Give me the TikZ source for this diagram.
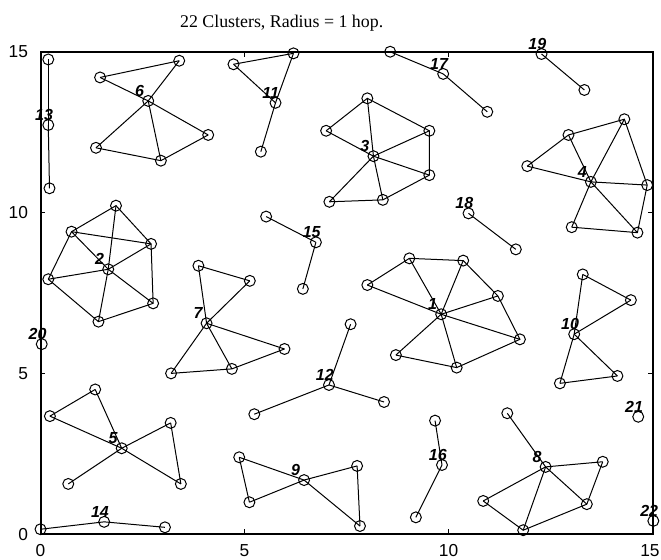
\documentclass[tikz,border=0pt]{standalone}
\usepackage{fontspec}
\setmainfont{Liberation Serif}
\setsansfont{Liberation Sans}
\usepackage{tikz}

\begin{document}
\begin{tikzpicture}[x=30.6pt, y=24.1pt,
  mote/.style={circle, draw=black, line width=0.75pt, inner sep=0pt, minimum size=8.2pt},
  link/.style={draw=black, line width=0.75pt},
  clabel/.style={font=\sffamily\bfseries\itshape\fontsize{12}{12}\selectfont, inner sep=0pt,
                 anchor=base west, xshift=-10pt, yshift=3.4pt},
  ticklbl/.style={font=\sffamily\fontsize{13}{13}\selectfont, inner sep=0pt},
  frame/.style={draw=black, line width=1.5pt}
]
  \useasboundingbox (-0.993,-0.778) rectangle (15.208,16.62);
  \node[font=\fontsize{13.4}{14}\selectfont, anchor=base, inner sep=0pt] (title) at (5.91,15.75) {22 Clusters, Radius = 1 hop.};

  \draw[frame] (0,0) rectangle (15,15);
  \foreach \v in {5,10} {
    \draw[line width=0.75pt] (\v,0) -- ++(0,0.16) (\v,15) -- ++(0,-0.16);
    \draw[line width=0.75pt] (0,\v) -- ++(0.12,0) (15,\v) -- ++(-0.12,0);
  }
  \foreach \v in {0,5,10,15} \node[ticklbl, anchor=east] (yl\v) at (-0.3,\v) {\v};
  \foreach \v in {0,5,10} \node[ticklbl, anchor=north] (xl\v) at (\v,-0.31) {\v};
  \node[ticklbl, anchor=north east] (xl15) at (15.18,-0.31) {15};

  \node[mote] (h1) at (9.82,6.84) {};
  \node[mote] (n1a) at (9.04,8.58) {};
  \node[mote] (n1b) at (8.01,7.75) {};
  \node[mote] (n1c) at (10.36,8.51) {};
  \node[mote] (n1d) at (11.21,7.41) {};
  \node[mote] (n1e) at (11.75,6.06) {};
  \node[mote] (n1f) at (10.20,5.18) {};
  \node[mote] (n1g) at (8.71,5.57) {};

  \node[mote] (h2) at (1.66,8.24) {};
  \node[mote] (n2a) at (1.85,10.22) {};
  \node[mote] (n2b) at (0.76,9.41) {};
  \node[mote] (n2c) at (2.71,9.03) {};
  \node[mote] (n2d) at (0.19,7.93) {};
  \node[mote] (n2e) at (2.76,7.18) {};
  \node[mote] (n2f) at (1.42,6.61) {};

  \node[mote] (h3) at (8.16,11.76) {};
  \node[mote] (n3a) at (8.01,13.56) {};
  \node[mote] (n3b) at (7.00,12.55) {};
  \node[mote] (n3c) at (9.53,12.55) {};
  \node[mote] (n3d) at (9.53,11.17) {};
  \node[mote] (n3e) at (8.39,10.40) {};
  \node[mote] (n3f) at (7.08,10.34) {};

  \node[mote] (h4) at (13.49,10.96) {};
  \node[mote] (n4a) at (14.31,12.91) {};
  \node[mote] (n4b) at (12.94,12.42) {};
  \node[mote] (n4c) at (11.93,11.45) {};
  \node[mote] (n4d) at (14.87,10.86) {};
  \node[mote] (n4e) at (13.02,9.55) {};
  \node[mote] (n4f) at (14.63,9.38) {};

  \node[mote] (h5) at (1.99,2.67) {};
  \node[mote] (n5a) at (1.34,4.50) {};
  \node[mote] (n5b) at (0.23,3.67) {};
  \node[mote] (n5c) at (3.19,3.46) {};
  \node[mote] (n5d) at (3.44,1.56) {};
  \node[mote] (n5e) at (0.68,1.56) {};

  \node[mote] (h6) at (2.64,13.48) {};
  \node[mote] (n6a) at (1.46,14.21) {};
  \node[mote] (n6b) at (3.40,14.73) {};
  \node[mote] (n6c) at (4.11,12.42) {};
  \node[mote] (n6d) at (2.95,11.62) {};
  \node[mote] (n6e) at (1.36,12.02) {};

  \node[mote] (h7) at (4.07,6.56) {};
  \node[mote] (n7a) at (3.87,8.35) {};
  \node[mote] (n7b) at (5.13,7.88) {};
  \node[mote] (n7c) at (5.98,5.76) {};
  \node[mote] (n7d) at (4.69,5.14) {};
  \node[mote] (n7e) at (3.20,5.00) {};

  \node[mote] (h8) at (12.38,2.09) {};
  \node[mote] (n8a) at (11.44,3.76) {};
  \node[mote] (n8b) at (13.78,2.25) {};
  \node[mote] (n8c) at (13.39,0.93) {};
  \node[mote] (n8d) at (10.85,1.03) {};
  \node[mote] (n8e) at (11.83,0.12) {};

  \node[mote] (h9) at (6.46,1.68) {};
  \node[mote] (n9a) at (4.87,2.39) {};
  \node[mote] (n9b) at (5.12,0.99) {};
  \node[mote] (n9c) at (7.76,2.12) {};
  \node[mote] (n9d) at (7.83,0.25) {};

  \node[mote] (h10) at (13.08,6.22) {};
  \node[mote] (n10a) at (13.29,8.08) {};
  \node[mote] (n10b) at (14.47,7.28) {};
  \node[mote] (n10c) at (12.73,4.69) {};
  \node[mote] (n10d) at (14.14,4.92) {};

  \node[mote] (h11) at (5.76,13.42) {};
  \node[mote] (n11a) at (4.73,14.62) {};
  \node[mote] (n11b) at (6.20,14.96) {};
  \node[mote] (n11c) at (5.40,11.90) {};

  \node[mote] (h12) at (7.07,4.64) {};
  \node[mote] (n12a) at (7.60,6.53) {};
  \node[mote] (n12b) at (5.24,3.73) {};
  \node[mote] (n12c) at (8.42,4.11) {};

  \node[mote] (h13) at (0.19,12.73) {};
  \node[mote] (n13a) at (0.19,14.77) {};
  \node[mote] (n13b) at (0.22,10.76) {};

  \node[mote] (h14) at (1.56,0.38) {};
  \node[mote] (n14a) at (0.00,0.15) {};
  \node[mote] (n14b) at (3.05,0.21) {};

  \node[mote] (h15) at (6.75,9.08) {};
  \node[mote] (n15a) at (5.53,9.88) {};
  \node[mote] (n15b) at (6.43,7.63) {};

  \node[mote] (h16) at (9.84,2.15) {};
  \node[mote] (n16a) at (9.67,3.53) {};
  \node[mote] (n16b) at (9.20,0.52) {};

  \node[mote] (h17) at (9.87,14.32) {};
  \node[mote] (n17a) at (8.57,15.01) {};
  \node[mote] (n17b) at (10.95,13.14) {};

  \node[mote] (h18) at (10.49,9.98) {};
  \node[mote] (n18a) at (11.65,8.86) {};

  \node[mote] (h19) at (12.28,14.94) {};
  \node[mote] (n19a) at (13.33,13.82) {};

  \node[mote] (h20) at (0.03,5.91) {};
  \node[mote] (h21) at (14.65,3.65) {};
  \node[mote] (h22) at (15.02,0.41) {};

  \foreach \m in {a,b,c,d,e,f,g} \draw[link] (h1.center) -- (n1\m.center);
  \draw[link] (n1b.center) -- (n1a.center) -- (n1c.center) -- (n1d.center) -- (n1e.center) -- (n1f.center) -- (n1g.center);

  \foreach \m in {a,b,c,d,e,f} \draw[link] (h2.center) -- (n2\m.center);
  \draw[link] (n2d.center) -- (n2b.center) -- (n2a.center) -- (n2c.center) -- (n2e.center) -- (n2f.center) -- (n2d.center);
  \draw[link] (n2b.center) -- (n2c.center);

  \foreach \m in {a,b,c,d,e,f} \draw[link] (h3.center) -- (n3\m.center);
  \draw[link] (n3b.center) -- (n3a.center) -- (n3c.center) -- (n3d.center) -- (n3e.center) -- (n3f.center);

  \foreach \m in {a,b,c,d,e,f} \draw[link] (h4.center) -- (n4\m.center);
  \draw[link] (n4c.center) -- (n4b.center) -- (n4a.center) -- (n4d.center) -- (n4f.center) -- (n4e.center);

  \foreach \m in {a,b,c,d,e} \draw[link] (h5.center) -- (n5\m.center);
  \draw[link] (n5b.center) -- (n5a.center) (n5c.center) -- (n5d.center);

  \foreach \m in {a,b,c,d,e} \draw[link] (h6.center) -- (n6\m.center);
  \draw[link] (n6b.center) -- (n6a.center) (n6e.center) -- (n6d.center) -- (n6c.center);

  \foreach \m in {a,b,c,d,e} \draw[link] (h7.center) -- (n7\m.center);
  \draw[link] (n7a.center) -- (n7b.center) (n7e.center) -- (n7d.center) -- (n7c.center);

  \foreach \m in {a,b,c,d,e} \draw[link] (h8.center) -- (n8\m.center);
  \draw[link] (n8b.center) -- (n8c.center) -- (n8e.center) -- (n8d.center);

  \foreach \m in {a,b,c,d} \draw[link] (h9.center) -- (n9\m.center);
  \draw[link] (n9a.center) -- (n9b.center) (n9c.center) -- (n9d.center);

  \foreach \m in {a,b,c,d} \draw[link] (h10.center) -- (n10\m.center);
  \draw[link] (n10a.center) -- (n10b.center) (n10c.center) -- (n10d.center);

  \foreach \m in {a,b,c} \draw[link] (h11.center) -- (n11\m.center);
  \draw[link] (n11a.center) -- (n11b.center);

  \foreach \m in {a,b,c} \draw[link] (h12.center) -- (n12\m.center);
  \foreach \k in {13,14,15,16,17} {
    \draw[link] (h\k.center) -- (n\k a.center);
    \draw[link] (h\k.center) -- (n\k b.center);
  }
  \draw[link] (h18.center) -- (n18a.center);
  \draw[link] (h19.center) -- (n19a.center);

  \foreach \k in {1,...,22} \node[clabel] (t\k) at (h\k) {\k};
\end{tikzpicture}
\end{document}
